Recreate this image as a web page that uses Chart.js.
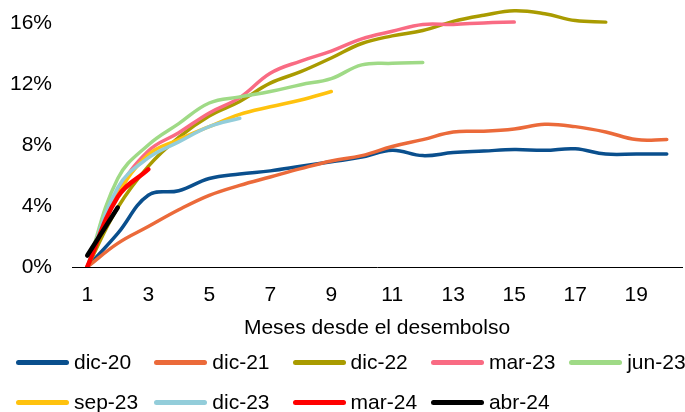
<!DOCTYPE html>
<html lang="es">
<head>
<meta charset="utf-8">
<title>Meses desde el desembolso</title>
<script src="https://cdn.jsdelivr.net/npm/chart.js@4/dist/chart.umd.min.js"></script>
<style>
  html, body { margin: 0; padding: 0; background: #fff; overflow: hidden; }
  #wrap { position: relative; width: 685px; height: 412px; }
  #legend { position: absolute; left: 0; top: 0; width: 685px; height: 412px; pointer-events: none;
            font-family: "Liberation Sans", Arial, sans-serif; font-size: 21px; color: #000; }
  .item { position: absolute; display: flex; align-items: center; white-space: nowrap; height: 24px; line-height: 24px; }
  .swatch { display: inline-block; width: 53px; height: 5px; border-radius: 3px; margin-right: 5px; }
</style>
</head>
<body>
<div id="wrap">
  <canvas id="c" width="685" height="412"></canvas>
  <div id="legend"></div>
</div>
<script>
// Months since disbursement (category axis)
const months = ['1','2','3','4','5','6','7','8','9','10','11','12','13','14','15','16','17','18','19','20'];

// Cumulative share per cohort, in percent
const dic20 = [0, 2.2, 4.7, 5.0, 5.8, 6.1, 6.3, 6.6, 6.9, 7.2, 7.65, 7.3, 7.5, 7.6, 7.7, 7.65, 7.75, 7.4, 7.4, 7.4];
const dic21 = [0, 1.55, 2.65, 3.75, 4.7, 5.35, 5.9, 6.45, 6.95, 7.3, 7.9, 8.35, 8.85, 8.9, 9.05, 9.35, 9.2, 8.85, 8.35, 8.35];
const dic22 = [0, 3.9, 6.6, 8.5, 9.9, 10.85, 12.05, 12.8, 13.7, 14.65, 15.15, 15.5, 16.1, 16.5, 16.8, 16.6, 16.15, 16.05];
const mar23 = [0, 4.9, 7.6, 8.8, 10.1, 11.1, 12.7, 13.5, 14.15, 14.95, 15.45, 15.9, 15.9, 16.0, 16.05];
const jun23 = [0, 5.8, 8.0, 9.4, 10.75, 11.15, 11.5, 11.95, 12.35, 13.25, 13.35, 13.4];
const sep23 = [0, 4.7, 7.35, 8.35, 9.2, 10.0, 10.5, 10.95, 11.5];
const dic23 = [0, 5.2, 7.15, 8.2, 9.2, 9.75];
const mar24 = [0, 4.6, 6.4];
const abr24 = [0.75, 3.9];

// Y-axis ticks (percent)
const yTicks = [0, 4, 8, 12, 16];

const seriesNames = ['dic-20', 'dic-21', 'dic-22', 'mar-23', 'jun-23', 'sep-23', 'dic-23', 'mar-24', 'abr-24'];
const seriesValues = [dic20, dic21, dic22, mar23, jun23, sep23, dic23, mar24, abr24];
const seriesColors = ['#0A4F8D', '#EB6A3A', '#A99B00', '#F96B83', '#9FDA86', '#FFC20E', '#93CDDA', '#FF0000', '#000000'];
const seriesWidths = [3.5, 3.5, 3.5, 3.5, 3.5, 3.5, 3.5, 4.5, 4.5];

const FONT = '"Liberation Sans", Arial, sans-serif';

const datasets = seriesNames.map((name, i) => ({
  label: name,
  data: seriesValues[i],
  borderColor: seriesColors[i],
  backgroundColor: seriesColors[i],
  borderWidth: seriesWidths[i],
  borderCapStyle: 'round',
  borderJoinStyle: 'round',
  pointRadius: 0,
  pointHoverRadius: 0,
  tension: 0.4,
  fill: false,
  order: -i            // newer cohorts are drawn on top
}));

const chart = new Chart(document.getElementById('c'), {
  type: 'line',
  data: { labels: months, datasets },
  options: {
    responsive: false,
    animation: false,
    devicePixelRatio: 1,
    layout: { padding: { left: 10, right: 3, top: 0, bottom: 71 } },
    plugins: { legend: { display: false }, tooltip: { enabled: false } },
    scales: {
      x: {
        type: 'category',
        offset: true,
        grid: { display: false, drawTicks: false },
        border: { display: true, color: '#000000', width: 1 },
        afterFit: (s) => { s.height = 74; },
        ticks: {
          autoSkip: false, maxRotation: 0, padding: 16,
          color: '#000000', font: { family: FONT, size: 21 },
          callback: function (value, index) { return index % 2 === 0 ? this.getLabelForValue(value) : ''; }
        },
        title: {
          display: true, text: 'Meses desde el desembolso', color: '#000000',
          font: { family: FONT, size: 21 }, padding: 0
        }
      },
      y: {
        min: 0, max: 17.5,
        grid: { display: false, drawTicks: false },
        border: { display: false },
        afterBuildTicks: (scale) => { scale.ticks = yTicks.map(v => ({ value: v })); },
        afterFit: (s) => { s.width = 62; s.paddingTop = 0; },
        ticks: {
          padding: 20, color: '#000000', font: { family: FONT, size: 21 },
          callback: (v) => v + '%'
        }
      }
    }
  }
});

// Legend laid out as a grid of five columns
const legendEl = document.getElementById('legend');
const colX = 16, colStep = 138.3, rowY = [362, 402];
chart.data.datasets.forEach((ds, i) => {
  const item = document.createElement('div');
  item.className = 'item';
  item.style.left = (colX + (i % 5) * colStep) + 'px';
  item.style.top = (rowY[Math.floor(i / 5)] - 12) + 'px';
  const sw = document.createElement('span');
  sw.className = 'swatch';
  sw.style.background = ds.borderColor;
  const tx = document.createElement('span');
  tx.textContent = ds.label;
  item.appendChild(sw);
  item.appendChild(tx);
  legendEl.appendChild(item);
});
</script>
</body>
</html>
